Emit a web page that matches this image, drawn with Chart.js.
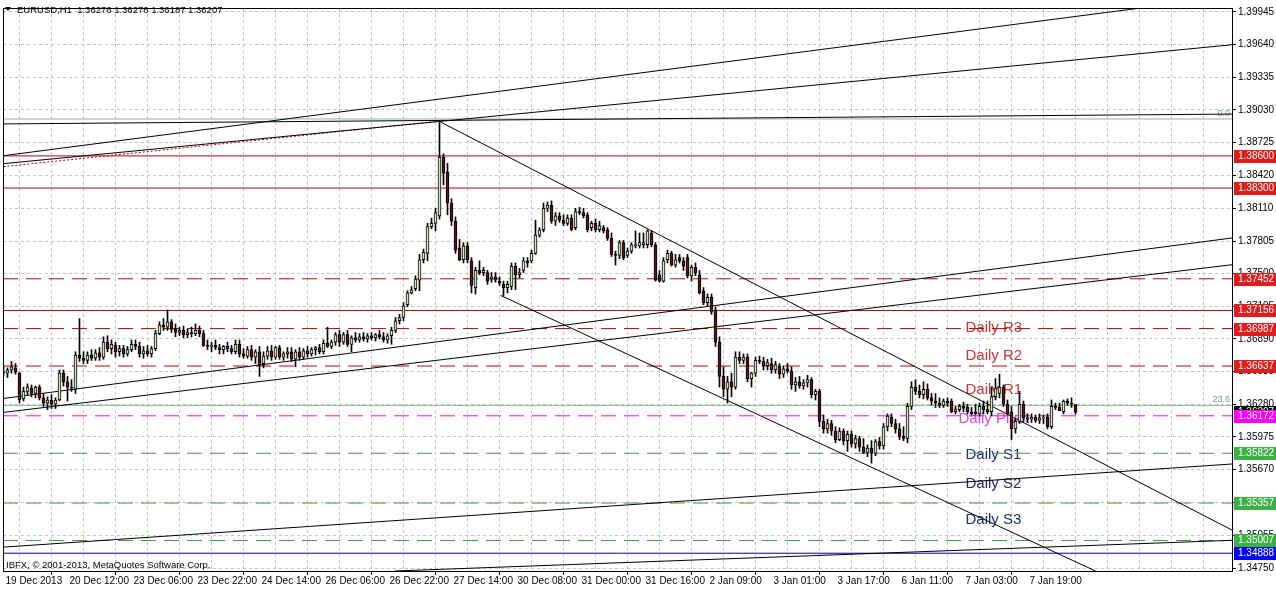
<!DOCTYPE html>
<html>
<head>
<meta charset="utf-8">
<script src="https://cdn.jsdelivr.net/npm/chart.js@4.4.0/dist/chart.umd.min.js"></script>
<style>
  html, body { margin: 0; padding: 0; background: #fff; }
  #chart { display: block; }
</style>
</head>
<body>
<canvas id="chart" width="1276" height="589"></canvas>
<script>
const chartTitle = 'EURUSD,H1  1.36276 1.36276 1.36187 1.36207';
const copyright = 'IBFX, \u00a9 2001-2013, MetaQuotes Software Corp.';

// one label every 16 hourly bars
const timeLabels = ['19 Dec 2013', '20 Dec 12:00', '23 Dec 06:00', '23 Dec 22:00', '24 Dec 14:00', '26 Dec 06:00',
  '26 Dec 22:00', '27 Dec 14:00', '30 Dec 08:00', '31 Dec 00:00', '31 Dec 16:00', '2 Jan 09:00',
  '3 Jan 01:00', '3 Jan 17:00', '6 Jan 11:00', '7 Jan 03:00', '7 Jan 19:00'];

const priceTicks = [1.34750, 1.35055, 1.35365, 1.35670, 1.35975, 1.36280, 1.36585, 1.36890, 1.37195,
  1.37500, 1.37805, 1.38110, 1.38420, 1.38725, 1.39030, 1.39335, 1.39640, 1.39945];

const opens = [
  1.3658, 1.3657, 1.3660, 1.3662, 1.3657, 1.3633, 1.3640, 1.3643, 1.3638, 1.3644,
  1.3634, 1.3629, 1.3632, 1.3628, 1.3632, 1.3657, 1.3649, 1.3644, 1.3642, 1.3674,
  1.3671, 1.3669, 1.3674, 1.3671, 1.3676, 1.3672, 1.3686, 1.3680, 1.3683, 1.3677,
  1.3680, 1.3675, 1.3679, 1.3684, 1.3682, 1.3675, 1.3678, 1.3675, 1.3680, 1.3694,
  1.3702, 1.3700, 1.3705, 1.3698, 1.3695, 1.3697, 1.3693, 1.3695, 1.3694, 1.3697,
  1.3694, 1.3683, 1.3682, 1.3683, 1.3681, 1.3679, 1.3682, 1.3680, 1.3677, 1.3684,
  1.3675, 1.3673, 1.3679, 1.3672, 1.3677, 1.3666, 1.3673, 1.3678, 1.3672, 1.3681,
  1.3672, 1.3675, 1.3677, 1.3670, 1.3677, 1.3672, 1.3678, 1.3675, 1.3679, 1.3681,
  1.3677, 1.3685, 1.3682, 1.3686, 1.3693, 1.3686, 1.3693, 1.3684, 1.3690, 1.3688,
  1.3691, 1.3689, 1.3692, 1.3690, 1.3693, 1.3691, 1.3688, 1.3692, 1.3697, 1.3706,
  1.3709, 1.3721, 1.3732, 1.3736, 1.3744, 1.3763, 1.3769, 1.3794, 1.3797, 1.3804,
  1.3859, 1.3845, 1.3816, 1.3799, 1.3774, 1.3763, 1.3776, 1.3762, 1.3737, 1.3753,
  1.3751, 1.3751, 1.3745, 1.3747, 1.3743, 1.3740, 1.3737, 1.3738, 1.3757, 1.3749,
  1.3753, 1.3762, 1.3762, 1.3769, 1.3786, 1.3791, 1.3811, 1.3814, 1.3799, 1.3804,
  1.3800, 1.3797, 1.3802, 1.3793, 1.3808, 1.3807, 1.3805, 1.3793, 1.3797, 1.3791,
  1.3793, 1.3791, 1.3783, 1.3768, 1.3767, 1.3779, 1.3767, 1.3771, 1.3776, 1.3776,
  1.3777, 1.3777, 1.3788, 1.3777, 1.3749, 1.3743, 1.3763, 1.3769, 1.3758, 1.3765,
  1.3762, 1.3765, 1.3748, 1.3756, 1.3749, 1.3734, 1.3723, 1.3728, 1.3716, 1.3686,
  1.3654, 1.3642, 1.3649, 1.3644, 1.3672, 1.3669, 1.3672, 1.3652, 1.3657, 1.3669,
  1.3668, 1.3664, 1.3666, 1.3660, 1.3664, 1.3656, 1.3661, 1.3659, 1.3646, 1.3649,
  1.3645, 1.3648, 1.3651, 1.3637, 1.3640, 1.3612, 1.3605, 1.3610, 1.3603, 1.3595,
  1.3603, 1.3594, 1.3600, 1.3591, 1.3596, 1.3588, 1.3583, 1.3587, 1.3582, 1.3593,
  1.3589, 1.3607, 1.3616, 1.3610, 1.3605, 1.3598, 1.3596, 1.3626, 1.3644, 1.3640,
  1.3637, 1.3642, 1.3634, 1.3631, 1.3629, 1.3627, 1.3631, 1.3631, 1.3621, 1.3623,
  1.3626, 1.3625, 1.3621, 1.3621, 1.3619, 1.3626, 1.3623, 1.3621, 1.3635, 1.3638,
  1.3644, 1.3628, 1.3621, 1.3605, 1.3612, 1.3628, 1.3615, 1.3614, 1.3616, 1.3613,
  1.3615, 1.3616, 1.3607, 1.3626, 1.3625, 1.3621, 1.3631, 1.3629, 1.36276
];
const highs = [
  1.3663, 1.3662, 1.3668, 1.3666, 1.3658, 1.3644, 1.3647, 1.3646, 1.3645, 1.3646,
  1.3638, 1.3635, 1.3637, 1.3634, 1.3660, 1.3660, 1.3654, 1.3651, 1.3677, 1.3708,
  1.3677, 1.3677, 1.3679, 1.3679, 1.3681, 1.3691, 1.3692, 1.3688, 1.3686, 1.3683,
  1.3683, 1.3682, 1.3688, 1.3688, 1.3686, 1.3682, 1.3683, 1.3682, 1.3697, 1.3705,
  1.3708, 1.3716, 1.3707, 1.3703, 1.3700, 1.3701, 1.3698, 1.3700, 1.3703, 1.3701,
  1.3697, 1.3688, 1.3686, 1.3688, 1.3684, 1.3683, 1.3686, 1.3683, 1.3688, 1.3688,
  1.3680, 1.3682, 1.3683, 1.3679, 1.3682, 1.3677, 1.3682, 1.3683, 1.3682, 1.3683,
  1.3677, 1.3681, 1.3681, 1.3679, 1.3681, 1.3680, 1.3682, 1.3681, 1.3682, 1.3684,
  1.3688, 1.3700, 1.3688, 1.3695, 1.3697, 1.3695, 1.3697, 1.3692, 1.3695, 1.3694,
  1.3695, 1.3694, 1.3695, 1.3694, 1.3697, 1.3695, 1.3694, 1.3700, 1.3709, 1.3712,
  1.3723, 1.3734, 1.3738, 1.3748, 1.3768, 1.3773, 1.3797, 1.3802, 1.3811, 1.3893,
  1.3862, 1.3853, 1.3820, 1.3803, 1.3782, 1.3779, 1.3779, 1.3765, 1.3756, 1.3762,
  1.3756, 1.3753, 1.3751, 1.3751, 1.3747, 1.3743, 1.3743, 1.3760, 1.3760, 1.3755,
  1.3765, 1.3765, 1.3772, 1.3800, 1.3793, 1.3816, 1.3817, 1.3818, 1.3807, 1.3807,
  1.3805, 1.3805, 1.3805, 1.3811, 1.3812, 1.3811, 1.3807, 1.3799, 1.3801, 1.3799,
  1.3795, 1.3793, 1.3788, 1.3771, 1.3781, 1.3781, 1.3774, 1.3779, 1.3790, 1.3788,
  1.3788, 1.3791, 1.3790, 1.3779, 1.3753, 1.3765, 1.3772, 1.3771, 1.3768, 1.3768,
  1.3765, 1.3768, 1.3758, 1.3760, 1.3753, 1.3737, 1.3731, 1.3731, 1.3719, 1.3691,
  1.3663, 1.3654, 1.3657, 1.3677, 1.3677, 1.3675, 1.3675, 1.3658, 1.3672, 1.3673,
  1.3672, 1.3670, 1.3671, 1.3668, 1.3666, 1.3664, 1.3666, 1.3663, 1.3653, 1.3654,
  1.3651, 1.3655, 1.3653, 1.3642, 1.3642, 1.3618, 1.3614, 1.3613, 1.3607, 1.3606,
  1.3605, 1.3603, 1.3603, 1.3599, 1.3598, 1.3596, 1.3590, 1.3594, 1.3595, 1.3597,
  1.3610, 1.3619, 1.3619, 1.3614, 1.3610, 1.3607, 1.3629, 1.3649, 1.3651, 1.3646,
  1.3649, 1.3647, 1.3638, 1.3638, 1.3634, 1.3633, 1.3634, 1.3633, 1.3626, 1.3628,
  1.3630, 1.3628, 1.3625, 1.3628, 1.3629, 1.3631, 1.3631, 1.3644, 1.3652, 1.3656,
  1.3646, 1.3632, 1.3626, 1.3614, 1.3640, 1.3631, 1.3619, 1.3619, 1.3618, 1.3619,
  1.3618, 1.3619, 1.3632, 1.3629, 1.3629, 1.3632, 1.3633, 1.3634, 1.36276
];
const lows = [
  1.3654, 1.3653, 1.3657, 1.3656, 1.3629, 1.3631, 1.3637, 1.3635, 1.3634, 1.3632,
  1.3626, 1.3623, 1.3624, 1.3624, 1.3631, 1.3645, 1.3631, 1.3640, 1.3638, 1.3668,
  1.3666, 1.3666, 1.3669, 1.3669, 1.3669, 1.3670, 1.3677, 1.3675, 1.3672, 1.3673,
  1.3672, 1.3673, 1.3677, 1.3679, 1.3672, 1.3671, 1.3673, 1.3672, 1.3678, 1.3693,
  1.3697, 1.3697, 1.3695, 1.3691, 1.3692, 1.3690, 1.3690, 1.3691, 1.3692, 1.3691,
  1.3682, 1.3679, 1.3677, 1.3679, 1.3675, 1.3675, 1.3677, 1.3675, 1.3675, 1.3672,
  1.3671, 1.3671, 1.3669, 1.3666, 1.3654, 1.3662, 1.3670, 1.3669, 1.3670, 1.3670,
  1.3669, 1.3671, 1.3668, 1.3663, 1.3669, 1.3670, 1.3672, 1.3673, 1.3674, 1.3675,
  1.3675, 1.3681, 1.3680, 1.3683, 1.3682, 1.3684, 1.3682, 1.3677, 1.3686, 1.3686,
  1.3687, 1.3686, 1.3688, 1.3687, 1.3689, 1.3686, 1.3685, 1.3684, 1.3695, 1.3703,
  1.3706, 1.3719, 1.3731, 1.3734, 1.3734, 1.3760, 1.3762, 1.3792, 1.3790, 1.3801,
  1.3833, 1.3805, 1.3795, 1.3769, 1.3762, 1.3760, 1.3760, 1.3732, 1.3731, 1.3749,
  1.3748, 1.3740, 1.3742, 1.3742, 1.3739, 1.3729, 1.3732, 1.3735, 1.3735, 1.3746,
  1.3751, 1.3756, 1.3760, 1.3768, 1.3784, 1.3789, 1.3808, 1.3797, 1.3795, 1.3798,
  1.3795, 1.3795, 1.3790, 1.3791, 1.3805, 1.3802, 1.3789, 1.3790, 1.3789, 1.3789,
  1.3788, 1.3781, 1.3766, 1.3758, 1.3764, 1.3763, 1.3765, 1.3769, 1.3774, 1.3774,
  1.3774, 1.3774, 1.3775, 1.3743, 1.3742, 1.3742, 1.3760, 1.3757, 1.3756, 1.3760,
  1.3753, 1.3746, 1.3743, 1.3748, 1.3731, 1.3721, 1.3720, 1.3712, 1.3682, 1.3644,
  1.3635, 1.3629, 1.3635, 1.3642, 1.3666, 1.3666, 1.3649, 1.3644, 1.3654, 1.3666,
  1.3660, 1.3660, 1.3657, 1.3657, 1.3652, 1.3653, 1.3657, 1.3642, 1.3640, 1.3643,
  1.3642, 1.3644, 1.3634, 1.3632, 1.3607, 1.3601, 1.3601, 1.3599, 1.3592, 1.3594,
  1.3590, 1.3584, 1.3588, 1.3587, 1.3584, 1.3582, 1.3579, 1.3573, 1.3580, 1.3586,
  1.3586, 1.3603, 1.3607, 1.3601, 1.3595, 1.3594, 1.3592, 1.3623, 1.3637, 1.3634,
  1.3633, 1.3632, 1.3627, 1.3625, 1.3625, 1.3625, 1.3626, 1.3620, 1.3619, 1.3621,
  1.3621, 1.3619, 1.3618, 1.3618, 1.3617, 1.3619, 1.3619, 1.3617, 1.3632, 1.3634,
  1.3626, 1.3618, 1.3595, 1.3601, 1.3610, 1.3612, 1.3611, 1.3611, 1.3611, 1.3610,
  1.3610, 1.3605, 1.3605, 1.3623, 1.3622, 1.3619, 1.3627, 1.3625, 1.36187
];
const closes = [
  1.3657, 1.3660, 1.3663, 1.3658, 1.3632, 1.3640, 1.3644, 1.3638, 1.3644, 1.3634,
  1.3629, 1.3632, 1.3628, 1.3632, 1.3657, 1.3649, 1.3644, 1.3643, 1.3674, 1.3671,
  1.3669, 1.3674, 1.3671, 1.3676, 1.3672, 1.3686, 1.3680, 1.3684, 1.3677, 1.3680,
  1.3675, 1.3679, 1.3684, 1.3682, 1.3675, 1.3678, 1.3675, 1.3680, 1.3694, 1.3702,
  1.3700, 1.3705, 1.3698, 1.3695, 1.3697, 1.3693, 1.3695, 1.3694, 1.3697, 1.3694,
  1.3683, 1.3682, 1.3683, 1.3681, 1.3679, 1.3682, 1.3680, 1.3677, 1.3684, 1.3675,
  1.3673, 1.3679, 1.3672, 1.3677, 1.3665, 1.3673, 1.3678, 1.3672, 1.3681, 1.3672,
  1.3675, 1.3677, 1.3670, 1.3677, 1.3672, 1.3678, 1.3675, 1.3679, 1.3681, 1.3677,
  1.3685, 1.3682, 1.3686, 1.3693, 1.3686, 1.3693, 1.3684, 1.3690, 1.3688, 1.3691,
  1.3689, 1.3692, 1.3690, 1.3693, 1.3691, 1.3688, 1.3692, 1.3697, 1.3706, 1.3709,
  1.3720, 1.3732, 1.3735, 1.3745, 1.3763, 1.3770, 1.3794, 1.3797, 1.3807, 1.3859,
  1.3844, 1.3816, 1.3799, 1.3772, 1.3763, 1.3776, 1.3763, 1.3739, 1.3753, 1.3751,
  1.3753, 1.3743, 1.3747, 1.3744, 1.3741, 1.3737, 1.3740, 1.3757, 1.3749, 1.3751,
  1.3762, 1.3760, 1.3769, 1.3786, 1.3791, 1.3811, 1.3814, 1.3799, 1.3804, 1.3800,
  1.3797, 1.3802, 1.3791, 1.3808, 1.3807, 1.3804, 1.3791, 1.3797, 1.3791, 1.3795,
  1.3790, 1.3783, 1.3768, 1.3767, 1.3779, 1.3765, 1.3771, 1.3777, 1.3777, 1.3779,
  1.3779, 1.3790, 1.3777, 1.3744, 1.3743, 1.3762, 1.3769, 1.3758, 1.3763, 1.3762,
  1.3757, 1.3748, 1.3756, 1.3751, 1.3732, 1.3723, 1.3728, 1.3714, 1.3686, 1.3654,
  1.3642, 1.3649, 1.3644, 1.3672, 1.3669, 1.3672, 1.3652, 1.3657, 1.3669, 1.3668,
  1.3664, 1.3667, 1.3660, 1.3665, 1.3656, 1.3661, 1.3659, 1.3646, 1.3649, 1.3645,
  1.3648, 1.3651, 1.3637, 1.3640, 1.3612, 1.3605, 1.3610, 1.3603, 1.3595, 1.3603,
  1.3594, 1.3600, 1.3591, 1.3596, 1.3588, 1.3583, 1.3587, 1.3582, 1.3593, 1.3589,
  1.3607, 1.3617, 1.3610, 1.3605, 1.3598, 1.3596, 1.3626, 1.3644, 1.3640, 1.3637,
  1.3642, 1.3634, 1.3631, 1.3629, 1.3627, 1.3631, 1.3629, 1.3621, 1.3623, 1.3626,
  1.3624, 1.3621, 1.3619, 1.3619, 1.3626, 1.3623, 1.3621, 1.3635, 1.3643, 1.3644,
  1.3628, 1.3619, 1.3605, 1.3612, 1.3628, 1.3615, 1.3614, 1.3616, 1.3613, 1.3615,
  1.3616, 1.3607, 1.3626, 1.3625, 1.3622, 1.3631, 1.3629, 1.3628, 1.36207
];

// horizontal levels
const resistanceLevels = [1.38600, 1.38300, 1.37452, 1.37156, 1.36987, 1.36637];
const resistanceSolid = [true, true, false, true, false, false];
const pivotLevel = 1.36172;
const supportLevels = [1.35822, 1.35357, 1.35007];
const blueLevel = 1.34888;
const bidPrice = 1.36207;
const fibLevels = [1.38945, 1.36269];
const fibNames = ['0.0', '23.6'];

// trend lines: [bar from, price from, bar to, price to]
const trendLines = [
  [0, 1.38602, 288, 1.40000],
  [0, 1.38528, 307.25, 1.39639],
  [0, 1.38899, 307.25, 1.38991],
  [109.25, 1.38917, 307.25, 1.35102],
  [124.25, 1.37297, 273, 1.34722],
  [0, 1.36334, 307.25, 1.37834],
  [0, 1.36204, 307.25, 1.37584],
  [0, 1.34945, 307.25, 1.35722],
  [97.75, 1.34722, 307.25, 1.35009]
];
const dottedLine = [0, 1.38500, 109.25, 1.38926];

const dailyNames = ['Daily R3', 'Daily R2', 'Daily R1', 'Daily Pivot', 'Daily S1', 'Daily S2', 'Daily S3'];
const dailyLabelPrices = [1.3699, 1.3673, 1.3641, 1.3614, 1.3581, 1.3554, 1.3520];

const X_MIN = -0.125, X_MAX = 307.125;
const RED = '#c00000', GREEN = '#3c9c3c', MAGENTA = '#ff00ff', NAVY = '#000090';
const DASH = [15, 8];

const bodies = [], wicks = [], bodyColors = [];
opens.forEach((o, i) => {
  bodies.push({ x: i, y: [o, closes[i]] });
  wicks.push({ x: i, y: [lows[i], highs[i]] });
  bodyColors.push(closes[i] >= o ? '#cfeabd' : '#5e1414');
});

function hline(price, color, dash) {
  return {
    type: 'line', data: [{ x: X_MIN, y: price }, { x: X_MAX, y: price }],
    borderColor: color, borderWidth: 1, borderDash: dash || [], pointRadius: 0, order: 3
  };
}
function seg(l, color, dash) {
  return {
    type: 'line', data: [{ x: l[0], y: l[1] }, { x: l[2], y: l[3] }],
    borderColor: color, borderWidth: 1, borderDash: dash || [], pointRadius: 0, order: 2
  };
}

const datasets = [
  { type: 'bar', data: bodies, backgroundColor: bodyColors, borderColor: '#000', borderWidth: 1,
    borderSkipped: false, barThickness: 3, minBarLength: 1, grouped: false, order: 0 },
  { type: 'bar', data: wicks, backgroundColor: '#000', borderWidth: 0, barThickness: 1,
    grouped: false, order: 1 }
];
resistanceLevels.forEach((p, i) => datasets.push(hline(p, RED, resistanceSolid[i] ? [] : DASH)));
datasets.push(hline(pivotLevel, MAGENTA, DASH));
supportLevels.forEach(p => datasets.push(hline(p, GREEN, DASH)));
datasets.push(hline(blueLevel, NAVY));
fibLevels.forEach(p => datasets.push(hline(p, '#8db5a8')));
trendLines.forEach(l => datasets.push(seg(l, '#000')));
datasets.push(seg(dottedLine, RED, [2, 2]));

const overlay = {
  id: 'overlay',
  beforeDatasetsDraw(chart) {
    const { ctx, chartArea: a, scales: { x, y } } = chart;
    ctx.save();
    ctx.beginPath();
    ctx.rect(a.left, a.top, a.right - a.left, a.bottom - a.top);
    ctx.clip();
    ctx.font = '9px "Liberation Sans"';
    ctx.fillStyle = '#6e9e8e';
    ctx.textAlign = 'right';
    ctx.textBaseline = 'bottom';
    fibLevels.forEach((p, i) => ctx.fillText(fibNames[i], a.right - 2, y.getPixelForValue(p) - 1));
    ctx.font = '15px "Liberation Sans"';
    ctx.textAlign = 'left';
    ctx.textBaseline = 'middle';
    dailyNames.forEach((t, i) => {
      ctx.fillStyle = i < 3 ? '#cc3333' : (i === 3 ? '#dd44dd' : '#1f2c6c');
      const bar = i === 3 ? 238.75 : 240.5;
      ctx.fillText(t, x.getPixelForValue(bar), y.getPixelForValue(dailyLabelPrices[i]));
    });
    ctx.restore();
  },
  afterDraw(chart) {
    const { ctx, chartArea: a, scales: { y } } = chart;
    ctx.save();
    // frame
    ctx.strokeStyle = '#000';
    ctx.lineWidth = 1;
    ctx.strokeRect(Math.round(a.left) + 0.5, Math.round(a.top) + 0.5,
      Math.round(a.right - a.left), Math.round(a.bottom - a.top));

    // price boxes on the axis
    const box = (p, color) => {
      const py = Math.round(y.getPixelForValue(p));
      ctx.fillStyle = color;
      ctx.fillRect(a.right + 2, py - 6, chart.width - a.right - 2, 13);
      ctx.fillStyle = '#fff';
      ctx.font = '10px "Liberation Sans"';
      ctx.textAlign = 'left';
      ctx.textBaseline = 'middle';
      ctx.fillText(p.toFixed(5), a.right + 6, py + 0.5);
    };
    resistanceLevels.forEach(p => box(p, '#e01c1c'));
    box(bidPrice, '#000');
    box(pivotLevel, '#ff00ff');
    supportLevels.forEach(p => box(p, '#3cb043'));
    box(blueLevel, '#0000ff');

    // title
    ctx.fillStyle = '#000';
    ctx.beginPath();
    ctx.moveTo(5, 7); ctx.lineTo(11, 7); ctx.lineTo(8, 11); ctx.closePath();
    ctx.fill();
    ctx.font = '9.5px "Liberation Sans"';
    ctx.textAlign = 'left';
    ctx.textBaseline = 'middle';
    ctx.fillText(chartTitle, 17, 10);
    ctx.fillText(copyright, 6, 565);
    ctx.restore();
  }
};

new Chart(document.getElementById('chart'), {
  type: 'bar',
  data: { datasets },
  plugins: [overlay],
  options: {
    responsive: false,
    animation: false,
    devicePixelRatio: 1,
    layout: { padding: { left: 3, top: 3, right: 0, bottom: 0 } },
    plugins: { legend: { display: false }, tooltip: { enabled: false } },
    scales: {
      x: {
        type: 'linear', min: X_MIN, max: X_MAX, offset: false,
        afterBuildTicks: s => {
          const t = [];
          for (let v = 0; v <= 304; v += 8) t.push({ value: v });
          s.ticks = t;
        },
        afterFit: s => { s.height = 18; },
        grid: {
          color: '#c4c4c4', lineWidth: 1, tickLength: 4, tickBorderDash: [],
          tickColor: c => (c.tick && c.tick.value % 16 === 0 && c.tick.value <= 256) ? '#000' : 'rgba(0,0,0,0)'
        },
        border: { display: false, dash: [3, 3] },
        ticks: {
          autoSkip: false, maxRotation: 0, minRotation: 0, align: 'start', labelOffset: 2, padding: 0,
          color: '#000', font: { family: 'Liberation Sans', size: 10 },
          callback: v => (v % 16 === 0 && v / 16 < timeLabels.length) ? timeLabels[v / 16] : ''
        }
      },
      y: {
        type: 'linear', position: 'right', min: 1.34722, max: 1.39982,
        afterBuildTicks: s => { s.ticks = priceTicks.map(v => ({ value: v })); },
        afterFit: s => { s.width = 44; },
        grid: { color: '#c4c4c4', lineWidth: 1, tickLength: 4, tickColor: '#000', tickBorderDash: [] },
        border: { display: false, dash: [3, 3] },
        ticks: {
          autoSkip: false, padding: 2, color: '#000',
          font: { family: 'Liberation Sans', size: 10 },
          callback: v => v.toFixed(5)
        }
      }
    }
  }
});
</script>
</body>
</html>
